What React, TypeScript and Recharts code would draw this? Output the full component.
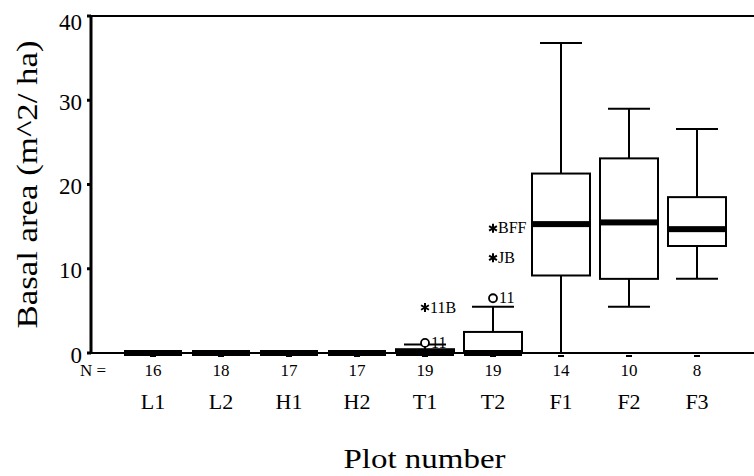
import { Bar, ComposedChart, ReferenceLine, Scatter, XAxis, YAxis } from 'recharts';

const plots = ['L1', 'L2', 'H1', 'H2', 'T1', 'T2', 'F1', 'F2', 'F3'];
const counts = [16, 18, 17, 17, 19, 19, 14, 10, 8];
const whiskerLow = [0, 0, 0, 0, 0, 0, 0, 5.5, 8.8];
const lowerQuartile = [0, 0, 0, 0, 0, 0, 9.2, 8.8, 12.7];
const medians = [0, 0, 0, 0, 0, 0, 15.3, 15.5, 14.7];
const upperQuartile = [0, 0, 0, 0, 0.45, 2.5, 21.3, 23.1, 18.5];
const whiskerHigh = [0, 0, 0, 0, 1.0, 5.5, 36.8, 29.0, 26.6];

// circles = outliers, stars = extreme values
const outlierPlots = ['T1', 'T1', 'T2', 'T2', 'T2'];
const outlierValues = [1.2, 5.4, 6.5, 11.3, 14.8];
const outlierLabels = ['11', '11B', '11', 'JB', 'BFF'];
const outlierKinds = ['circle', 'star', 'circle', 'star', 'star'];

const yTicks = [0, 10, 20, 30, 40];

const FONT = "'Liberation Serif', 'Times New Roman', serif";
const BOX_W = 58;
const CAP_W = 42;

const chartData = plots.map((plot, i) => {
  const row: Record<string, any> = {
    plot,
    n: counts[i],
    whisker: [whiskerLow[i], whiskerHigh[i]],
    q1: lowerQuartile[i],
    q3: upperQuartile[i],
    median: medians[i],
  };
  const idx = outlierPlots.map((p, j) => (p === plot ? j : -1)).filter((j) => j >= 0);
  [0, 1, 2].forEach((k) => {
    const j = idx[k];
    row[`o${k}`] = j === undefined ? null : outlierValues[j];
    row[`o${k}Label`] = j === undefined ? null : outlierLabels[j];
    row[`o${k}Kind`] = j === undefined ? null : outlierKinds[j];
  });
  return row;
});

// whiskers + box, positioned from the range bar the library lays out
const BoxShape = (props: any) => {
  const { x, y, width, height, payload } = props;
  const [lo, hi] = payload.whisker;
  if (!(hi > lo)) return null;
  const py = (v: number) => y + (height * (hi - v)) / (hi - lo);
  const cx = x + width / 2;
  return (
    <g>
      <line x1={cx} x2={cx} y1={py(hi)} y2={py(lo)} stroke="#000" strokeWidth={2} />
      <line x1={cx - CAP_W / 2} x2={cx + CAP_W / 2} y1={py(hi)} y2={py(hi)} stroke="#000" strokeWidth={2} />
      <line x1={cx - CAP_W / 2} x2={cx + CAP_W / 2} y1={py(lo)} y2={py(lo)} stroke="#000" strokeWidth={2} />
      {payload.q3 > payload.q1 && (
        <rect
          x={x}
          y={py(payload.q3)}
          width={width}
          height={py(payload.q1) - py(payload.q3)}
          fill="#fff"
          stroke="#000"
          strokeWidth={2}
        />
      )}
    </g>
  );
};

const MedianShape = (props: any) => {
  const { cx, cy } = props;
  if (cx == null || cy == null) return null;
  return <rect x={cx - BOX_W / 2} y={cy - 3} width={BOX_W} height={6} fill="#000" />;
};

const makeOutlierShape = (k: number) => (props: any) => {
  const { cx, cy, payload } = props;
  if (payload[`o${k}`] == null || cx == null || cy == null) return null;
  const label = payload[`o${k}Label`];
  if (payload[`o${k}Kind`] === 'circle') {
    return (
      <g>
        <circle cx={cx} cy={cy} r={4} fill="#fff" stroke="#000" strokeWidth={1.8} />
        <text x={cx + 6} y={cy + 5} fontFamily={FONT} fontSize={16} fill="#000">
          {label}
        </text>
      </g>
    );
  }
  const r = 4.5;
  return (
    <g stroke="#000" strokeWidth={2}>
      <line x1={cx} x2={cx} y1={cy - r} y2={cy + r} />
      <line x1={cx - r * 0.87} x2={cx + r * 0.87} y1={cy - r / 2} y2={cy + r / 2} />
      <line x1={cx - r * 0.87} x2={cx + r * 0.87} y1={cy + r / 2} y2={cy - r / 2} />
      <text x={cx + 5} y={cy + 5} fontFamily={FONT} fontSize={16} fill="#000" stroke="none">
        {label}
      </text>
    </g>
  );
};

const XTick = (props: any) => {
  const { x, y, payload, index } = props;
  return (
    <g>
      <line x1={x - 3} x2={x + 3} y1={y + 3} y2={y + 3} stroke="#000" strokeWidth={2} />
      {index === 0 && (
        <text x={x - 47} y={y + 23} textAnchor="end" fontFamily={FONT} fontSize={17} fill="#000">
          N =
        </text>
      )}
      <text x={x} y={y + 23} textAnchor="middle" fontFamily={FONT} fontSize={17} fill="#000">
        {counts[index]}
      </text>
      <text x={x} y={y + 56} textAnchor="middle" fontFamily={FONT} fontSize={22} fill="#000">
        {payload.value}
      </text>
    </g>
  );
};

const YTick = (props: any) => {
  const { x, y, payload } = props;
  const shift = payload.value === 40 ? 6 : 2;
  return (
    <text x={x} y={y + shift} textAnchor="end" dominantBaseline="central" fontFamily={FONT} fontSize={23} fill="#000">
      {payload.value}
    </text>
  );
};

const YTitle = (props: any) => {
  const { viewBox } = props;
  const bx = viewBox.x + 6;
  const cy = viewBox.y + viewBox.height / 2;
  return (
    <text
      x={bx}
      y={cy}
      transform={`rotate(-90, ${bx}, ${cy})`}
      textAnchor="middle"
      fontFamily={FONT}
      fontSize={30}
      textLength={288}
      lengthAdjust="spacingAndGlyphs"
      fill="#000"
    >
      Basal area (m^2/ ha)
    </text>
  );
};

const XTitle = (props: any) => {
  const { viewBox } = props;
  return (
    <text
      x={viewBox.x + viewBox.width / 2 + 2}
      y={viewBox.y + 115}
      textAnchor="middle"
      fontFamily={FONT}
      fontSize={28}
      textLength={162}
      lengthAdjust="spacingAndGlyphs"
      fill="#000"
    >
      Plot number
    </text>
  );
};

export default function App() {
  return (
    <div style={{ position: 'absolute', left: 0, top: 0, background: '#fff' }}>
      <ComposedChart width={754} height={476} data={chartData} margin={{ top: 16, right: 0, bottom: 63, left: 31 }}>
        <XAxis
          dataKey="plot"
          type="category"
          height={60}
          padding={{ left: 28, right: 23 }}
          axisLine={{ stroke: '#000', strokeWidth: 2 }}
          tickLine={false}
          tickSize={0}
          tickMargin={0}
          interval={0}
          tick={<XTick />}
          label={{ content: (p: any) => <XTitle {...p} /> }}
        />
        <YAxis
          type="number"
          domain={[0, 40]}
          ticks={yTicks}
          width={60}
          axisLine={{ stroke: '#000', strokeWidth: 3 }}
          tickLine={{ stroke: '#000', strokeWidth: 3 }}
          tickSize={4}
          tickMargin={5}
          tick={<YTick />}
          label={{ content: (p: any) => <YTitle {...p} /> }}
        />
        <ReferenceLine y={40} stroke="#000" strokeWidth={2} ifOverflow="visible" />
        <Bar dataKey="whisker" barSize={BOX_W} shape={<BoxShape />} isAnimationActive={false} />
        <Scatter dataKey="median" shape={<MedianShape />} isAnimationActive={false} />
        <Scatter dataKey="o0" shape={makeOutlierShape(0)} isAnimationActive={false} />
        <Scatter dataKey="o1" shape={makeOutlierShape(1)} isAnimationActive={false} />
        <Scatter dataKey="o2" shape={makeOutlierShape(2)} isAnimationActive={false} />
      </ComposedChart>
    </div>
  );
}
